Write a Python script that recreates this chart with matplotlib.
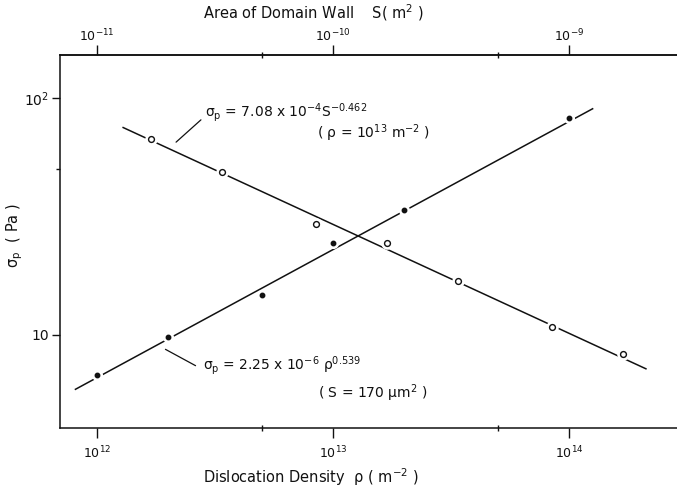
import numpy as np
import matplotlib
matplotlib.use("Agg")
import matplotlib.pyplot as plt
from matplotlib.ticker import FixedLocator, NullFormatter, FixedFormatter

plt.rcParams['font.family'] = ['DejaVu Sans']
plt.rcParams['mathtext.default'] = 'regular'

# ---- data ----
rho_vals = [1.0e12, 2.0e12, 5.0e12, 1.0e13, 2.0e13, 1.0e14]          # dislocation density (m^-2)
sigma_rho = [6.8, 9.8, 14.8, 24.4, 33.7, 82.4]                         # sigma_p (Pa), filled dots
S_vals = [1.7e-11, 3.4e-11, 8.5e-11, 1.7e-10, 3.4e-10, 8.5e-10, 1.7e-9]  # domain wall area (m^2)
sigma_S = [67.1, 48.7, 29.4, 24.4, 16.9, 10.8, 8.3]                    # sigma_p (Pa), open circles

fit_rho_x = [8.1e11, 1.26e14]
fit_rho_y = [5.9, 90.0]
fit_S_x = [1.29e-11, 2.12e-9]
fit_S_y = [75.0, 7.2]

x_ticks = [1e12, 1e13, 1e14]
x_ticklabels = ['$10^{12}$', '$10^{13}$', '$10^{14}$']
x_minor = [5e12, 5e13]
top_ticks = [1e-11, 1e-10, 1e-9]
top_ticklabels = ['$10^{-11}$', '$10^{-10}$', '$10^{-9}$']
top_minor = [5e-11, 5e-10]
y_ticks = [10, 100]
y_ticklabels = ['10', '$10^2$']
y_minor = [50]

RHO_TO_S = 1e-23

W, H = 677, 487
fig = plt.figure(figsize=(W / 100, H / 100), dpi=100)
ax = fig.add_axes([60 / W, 1 - 428 / H, 617 / W, 373 / H])
ax.set_xscale('log')
ax.set_yscale('log')
ax.set_xlim(10 ** 11.843, 10 ** 14.458)
ax.set_ylim(10 ** 0.6076, 10 ** 2.181)

lc = '#111111'
# fitted lines
ax.plot(fit_rho_x, fit_rho_y, color=lc, lw=1.1, zorder=2)
ax.plot([s / RHO_TO_S for s in fit_S_x], fit_S_y, color=lc, lw=1.1, zorder=2)

# white halos to break the line around each marker
ax.plot(rho_vals, sigma_rho, ls='none', marker='o', ms=8, mfc='white', mec='none', zorder=3)
ax.plot([s / RHO_TO_S for s in S_vals], sigma_S, ls='none', marker='o', ms=9, mfc='white', mec='none', zorder=3)
# markers
ax.plot(rho_vals, sigma_rho, ls='none', marker='o', ms=3.2, mfc=lc, mec=lc, zorder=4)
ax.plot([s / RHO_TO_S for s in S_vals], sigma_S, ls='none', marker='o', ms=4.2, mfc='white', mec=lc, mew=1.0, zorder=4)

# spines
ax.spines['right'].set_visible(False)
for sp in ['left', 'top', 'bottom']:
    ax.spines[sp].set_linewidth(1.1)
    ax.spines[sp].set_color(lc)

# bottom ticks
ax.xaxis.set_major_locator(FixedLocator(x_ticks))
ax.xaxis.set_major_formatter(FixedFormatter(x_ticklabels))
ax.xaxis.set_minor_locator(FixedLocator(x_minor))
ax.xaxis.set_minor_formatter(NullFormatter())
ax.tick_params(axis='x', which='major', direction='out', length=7, width=1.0, pad=5, labelsize=9, colors=lc)
ax.tick_params(axis='x', which='minor', direction='inout', length=4, width=1.0, colors=lc)

# y ticks
ax.yaxis.set_major_locator(FixedLocator(y_ticks))
ax.yaxis.set_major_formatter(FixedFormatter(y_ticklabels))
ax.yaxis.set_minor_locator(FixedLocator(y_minor))
ax.yaxis.set_minor_formatter(NullFormatter())
ax.tick_params(axis='y', which='major', direction='out', length=6, width=1.0, pad=2, labelsize=10, colors=lc)
ax.tick_params(axis='y', which='minor', direction='out', length=3, width=1.0, colors=lc)

# top secondary axis (area of domain wall)
sec = ax.secondary_xaxis('top', functions=(lambda r: r * RHO_TO_S, lambda s: s / RHO_TO_S))
sec.xaxis.set_major_locator(FixedLocator(top_ticks))
sec.xaxis.set_major_formatter(FixedFormatter(top_ticklabels))
sec.xaxis.set_minor_locator(FixedLocator(top_minor))
sec.xaxis.set_minor_formatter(NullFormatter())
sec.tick_params(axis='x', which='major', direction='out', length=7, width=1.0, pad=1, labelsize=9, colors=lc)
sec.tick_params(axis='x', which='minor', direction='inout', length=4, width=1.0, colors=lc)
sec.spines['top'].set_linewidth(1.1)
sec.spines['top'].set_color(lc)

# axis labels
fig.text(203 / W, 1 - 477 / H, r'Dislocation Density  $\rho$ ( m$^{-2}$ )', ha='left', va='center',
         fontsize=10.5, color=lc)
fig.text(203 / W, 1 - 13 / H, r'Area of Domain Wall    S( m$^2$ )', ha='left', va='center',
         fontsize=10.5, color=lc)
fig.text(15 / W, 1 - 236 / H, r'$\sigma_p$  ( Pa )', ha='center', va='center', rotation=90,
         fontsize=10.5, color=lc)

# annotations (axes-fraction placement)
def fx(px):
    return (px - 60) / 617

def fy(py):
    return (428 - py) / 373

ax.annotate('', xy=(fx(174), fy(144)), xytext=(fx(203), fy(118)), xycoords='axes fraction',
            textcoords='axes fraction', arrowprops=dict(arrowstyle='-', color=lc, lw=0.9))
ax.text(fx(205), fy(113), r'$\sigma_p$ = 7.08 x 10$^{-4}$S$^{-0.462}$', transform=ax.transAxes,
        ha='left', va='center', fontsize=10, color=lc)
ax.text(fx(317), fy(133), r'( $\rho$ = 10$^{13}$ m$^{-2}$ )', transform=ax.transAxes,
        ha='left', va='center', fontsize=10, color=lc)

ax.annotate('', xy=(fx(163), fy(348)), xytext=(fx(198), fy(367)), xycoords='axes fraction',
            textcoords='axes fraction', arrowprops=dict(arrowstyle='-', color=lc, lw=0.9))
ax.text(fx(203), fy(366), r'$\sigma_p$ = 2.25 x 10$^{-6}$ $\rho^{0.539}$', transform=ax.transAxes,
        ha='left', va='center', fontsize=10, color=lc)
ax.text(fx(318), fy(393), r'( S = 170 $\mu$m$^2$ )', transform=ax.transAxes,
        ha='left', va='center', fontsize=10, color=lc)

fig.savefig('out.png', dpi=100)
